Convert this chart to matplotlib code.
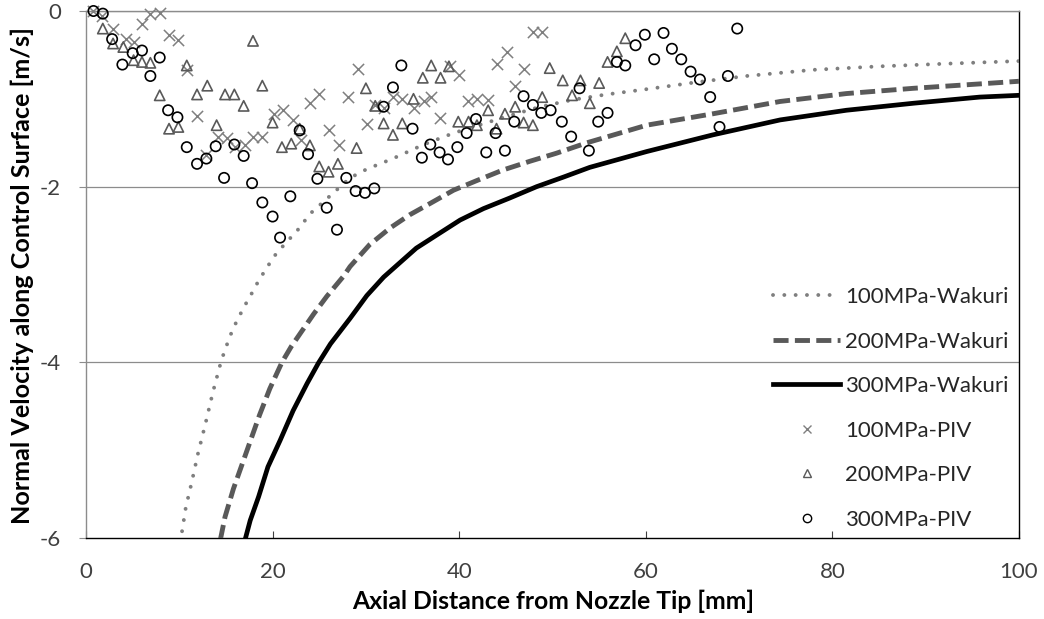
import matplotlib
matplotlib.use("Agg")
import matplotlib.pyplot as plt
from matplotlib.lines import Line2D

plt.rcParams['font.family'] = ['Lato', 'DejaVu Sans']
plt.rcParams['axes.unicode_minus'] = False

# ---- Wakuri model curves ----
w100_x = [10.1, 10.3, 10.7, 11.3, 12.0, 12.8, 13.6, 14.5, 15.1, 15.6, 16.2, 16.7, 17.3, 17.9, 18.5,
          19.1, 19.7, 20.4, 22.8, 24.0, 26.0, 28.3, 30.1, 32.9, 36.2, 39.4, 41.5, 45.1, 48.7,
          52.2, 55.8, 60.1, 65.5, 70.8, 77.9, 85.1, 92.2, 100.0]
w100_y = [-6.05, -5.92, -5.65, -5.38, -5.04, -4.70, -4.34, -3.98, -3.80, -3.66, -3.52, -3.42, -3.30,
          -3.19, -3.07, -2.97, -2.87, -2.76, -2.48, -2.31, -2.12, -1.90, -1.80, -1.68, -1.52,
          -1.39, -1.32, -1.20, -1.09, -1.01, -0.95, -0.89, -0.81, -0.74, -0.67, -0.63, -0.60, -0.57]

w200_x = [14.4, 14.9, 15.8, 16.7, 17.6, 18.6, 19.7, 21.0, 22.0, 23.1, 24.4, 25.8, 27.6, 28.3, 30.4,
          32.6, 34.7, 36.9, 39.4, 41.9, 44.7, 47.6, 50.4, 53.7, 60.1, 67.2, 74.4, 81.5, 88.7,
          95.8, 100.0]
w200_y = [-6.02, -5.76, -5.44, -5.17, -4.90, -4.60, -4.30, -4.00, -3.82, -3.65, -3.45, -3.25, -3.02,
          -2.91, -2.66, -2.47, -2.32, -2.19, -2.04, -1.93, -1.81, -1.71, -1.62, -1.50, -1.30,
          -1.17, -1.03, -0.94, -0.88, -0.83, -0.80]

w300_x = [17.1, 17.6, 18.5, 19.5, 20.8, 22.2, 23.7, 24.9, 26.2, 28.3, 30.1, 31.9, 33.7, 35.4, 37.6,
          40.1, 42.6, 45.4, 48.3, 51.2, 54.0, 60.1, 67.2, 74.4, 81.5, 88.7, 95.8, 100.0]
w300_y = [-6.00, -5.80, -5.53, -5.19, -4.89, -4.55, -4.24, -4.01, -3.79, -3.50, -3.24, -3.03, -2.86,
          -2.70, -2.55, -2.38, -2.25, -2.13, -2.00, -1.89, -1.78, -1.60, -1.41, -1.24, -1.13,
          -1.05, -0.98, -0.96]

# ---- PIV measurements ----
p100_x = [0.8, 1.7, 2.9, 4.3, 5.1, 6.0, 6.9, 7.9, 8.9, 9.9, 10.8, 11.9, 12.9, 14.1, 15.1, 16.0,
          17.0, 17.9, 18.9, 20.1, 21.1, 22.2, 23.0, 24.0, 25.0, 26.0, 27.1, 28.1, 29.1, 30.1,
          31.0, 31.9, 32.9, 33.9, 35.2, 36.2, 37.0, 37.9, 39.0, 40.0, 40.9, 41.9, 43.1, 44.1,
          45.1, 46.0, 46.9, 47.9, 48.9]
p100_y = [0.0, -0.06, -0.20, -0.32, -0.35, -0.15, -0.03, -0.02, -0.27, -0.33, -0.67, -1.20, -1.64,
          -1.43, -1.45, -1.55, -1.53, -1.44, -1.44, -1.17, -1.13, -1.24, -1.47, -1.05, -0.94,
          -1.36, -1.52, -0.98, -0.66, -1.29, -1.07, -1.10, -0.98, -1.00, -1.10, -1.03, -0.98,
          -1.22, -0.63, -0.73, -1.03, -1.00, -1.01, -0.60, -0.47, -0.85, -0.66, -0.24, -0.24]

p200_x = [1.8, 2.9, 4.0, 5.1, 6.0, 6.9, 7.9, 8.9, 9.9, 10.8, 11.9, 13.0, 14.0, 14.9, 15.9, 16.9,
          17.9, 18.9, 20.0, 21.0, 22.0, 22.9, 24.0, 25.0, 26.0, 27.0, 29.0, 30.0, 31.0, 31.9,
          32.9, 33.9, 35.1, 36.1, 37.0, 38.0, 38.9, 39.9, 41.0, 41.9, 43.1, 44.0, 44.9, 46.0,
          46.9, 47.9, 48.9, 49.7, 51.1, 52.1, 53.0, 54.0, 55.0, 55.9, 56.9, 57.8]
p200_y = [-0.20, -0.37, -0.41, -0.56, -0.58, -0.59, -0.96, -1.34, -1.32, -0.62, -0.95, -0.85, -1.30,
          -0.95, -0.95, -1.08, -0.34, -0.85, -1.27, -1.55, -1.51, -1.34, -1.53, -1.77, -1.83,
          -1.74, -1.56, -0.88, -1.08, -1.28, -1.41, -1.28, -1.00, -0.76, -0.62, -0.76, -0.63,
          -1.26, -1.26, -1.30, -1.13, -1.34, -1.17, -1.09, -1.27, -1.30, -0.98, -0.65, -0.79,
          -0.96, -0.79, -1.05, -0.82, -0.58, -0.46, -0.31]

p300_x = [0.8, 1.8, 2.8, 3.9, 5.0, 6.0, 6.9, 7.9, 8.8, 9.8, 10.8, 11.9, 12.9, 13.9, 14.8, 15.9,
          16.9, 17.8, 18.9, 20.0, 20.8, 21.9, 22.9, 23.8, 24.8, 25.8, 26.9, 27.9, 28.9, 29.9,
          30.9, 31.9, 32.9, 33.8, 35.0, 36.0, 36.9, 37.9, 38.8, 39.8, 40.8, 41.8, 42.9, 43.9,
          44.9, 45.9, 46.9, 47.9, 48.8, 49.8, 51.0, 52.0, 52.9, 53.9, 54.9, 55.9, 56.9, 57.8,
          58.9, 59.9, 60.9, 61.9, 62.8, 63.8, 64.8, 65.8, 66.9, 67.9, 68.8, 69.8]
p300_y = [0.0, -0.03, -0.32, -0.61, -0.48, -0.45, -0.74, -0.53, -1.13, -1.21, -1.55, -1.74, -1.68,
          -1.54, -1.90, -1.52, -1.65, -1.96, -2.18, -2.34, -2.58, -2.11, -1.36, -1.63, -1.91,
          -2.24, -2.49, -1.90, -2.05, -2.07, -2.02, -1.09, -0.87, -0.62, -1.34, -1.67, -1.52,
          -1.61, -1.69, -1.55, -1.39, -1.23, -1.61, -1.39, -1.59, -1.26, -0.97, -1.07, -1.16,
          -1.13, -1.26, -1.43, -0.88, -1.59, -1.26, -1.16, -0.58, -0.62, -0.39, -0.27, -0.55,
          -0.25, -0.43, -0.55, -0.69, -0.78, -0.98, -1.32, -0.74, -0.20]

x_ticks = [0, 20, 40, 60, 80, 100]
y_ticks = [0, -2, -4, -6]
x_label = "Axial Distance from Nozzle Tip [mm]"
y_label = "Normal Velocity along Control Surface [m/s]"
labels = ['100MPa-Wakuri', '200MPa-Wakuri', '300MPa-Wakuri', '100MPa-PIV', '200MPa-PIV', '300MPa-PIV']

W, H = 1044, 619
fig = plt.figure(figsize=(W / 100, H / 100), dpi=100)
ax = fig.add_axes([86 / W, 1 - 538 / H, (1019 - 86) / W, (538 - 11) / H])

grid_c = '#8c8c8c'
for yv in y_ticks[:-1]:
    ax.axhline(yv, color=grid_c, lw=0.9, zorder=0)

dot_style = dict(color='#7f7f7f', lw=2.8, linestyle=(0, (0.01, 2.9)), dash_capstyle='round')
dash_style = dict(color='#595959', lw=3.5, linestyle=(0, (3.1, 1.3)))
solid_style = dict(color='black', lw=3.4)

ax.plot(w100_x, w100_y, zorder=3, **dot_style)
ax.plot(w200_x, w200_y, zorder=3, **dash_style)
ax.plot(w300_x, w300_y, zorder=3, **solid_style)

ax.scatter(p100_x, p100_y, marker='x', s=65, color='#7f7f7f', linewidths=1.1,
           zorder=4, clip_on=False)
ax.scatter(p200_x, p200_y, marker='^', s=55, facecolors='none', edgecolors='#595959',
           linewidths=1.2, zorder=4, clip_on=False)
ax.scatter(p300_x, p300_y, marker='o', s=55, facecolors='none', edgecolors='black',
           linewidths=1.2, zorder=5, clip_on=False)

ax.set_xlim(0, 100)
ax.set_ylim(-6, 0)
ax.set_xticks(x_ticks)
ax.set_yticks(y_ticks)
ax.set_xticklabels([str(v) for v in x_ticks])
ax.set_yticklabels([str(v) for v in y_ticks])

tick_fs = 16
ax.tick_params(axis='x', direction='in', length=5, width=0.8, color='#404040',
               labelsize=tick_fs, labelcolor='#404040', pad=17)
ax.tick_params(axis='y', direction='out', length=5, width=0.8, color=grid_c,
               labelsize=tick_fs, labelcolor='#404040', pad=13)

ax.spines['left'].set_color(grid_c)
ax.spines['top'].set_color(grid_c)
ax.spines['bottom'].set_color('black')
ax.spines['right'].set_color('black')
for s in ax.spines.values():
    s.set_linewidth(1.0)

# axis titles placed in figure pixels
xl = fig.text(553 / W, 1 - 601 / H, x_label, ha='center', va='center',
              fontsize=16, fontweight='bold', color='black')
yl = fig.text(22 / W, 1 - 275 / H, y_label, ha='center', va='center', rotation=90,
              fontsize=16, fontweight='bold', color='black')

# fit text sizes to the reference widths
fig.canvas.draw()
r = fig.canvas.get_renderer()
bx = xl.get_window_extent(r)
xl.set_fontsize(16 * 403 / bx.width)
by = yl.get_window_extent(r)
yl.set_fontsize(16 * 497 / by.height)

# legend
handles = [
    Line2D([], [], **dot_style),
    Line2D([], [], **dash_style),
    Line2D([], [], **solid_style),
    Line2D([], [], marker='x', color='#7f7f7f', linestyle='none', markersize=6, markeredgewidth=1.0),
    Line2D([], [], marker='^', color='#595959', markerfacecolor='none', linestyle='none',
           markersize=6, markeredgewidth=1.0),
    Line2D([], [], marker='o', color='black', markerfacecolor='none', linestyle='none',
           markersize=6, markeredgewidth=1.0),
]
leg_fs = 16
probe = fig.text(0, 0, labels[0], fontsize=leg_fs)
fig.canvas.draw()
pw = probe.get_window_extent(r).width
probe.remove()
leg_fs = leg_fs * 164 / pw
em = leg_fs * 100 / 72
leg = ax.legend(handles, labels, loc='center left',
                bbox_to_anchor=(773 / W, 1 - 408.5 / H), bbox_transform=fig.transFigure,
                frameon=False, fontsize=leg_fs, handlelength=67 / em, handletextpad=5 / em,
                labelspacing=1.1, borderpad=0, borderaxespad=0)
for t in leg.get_texts():
    t.set_color('#262626')

fig.savefig('out.png', dpi=100)
